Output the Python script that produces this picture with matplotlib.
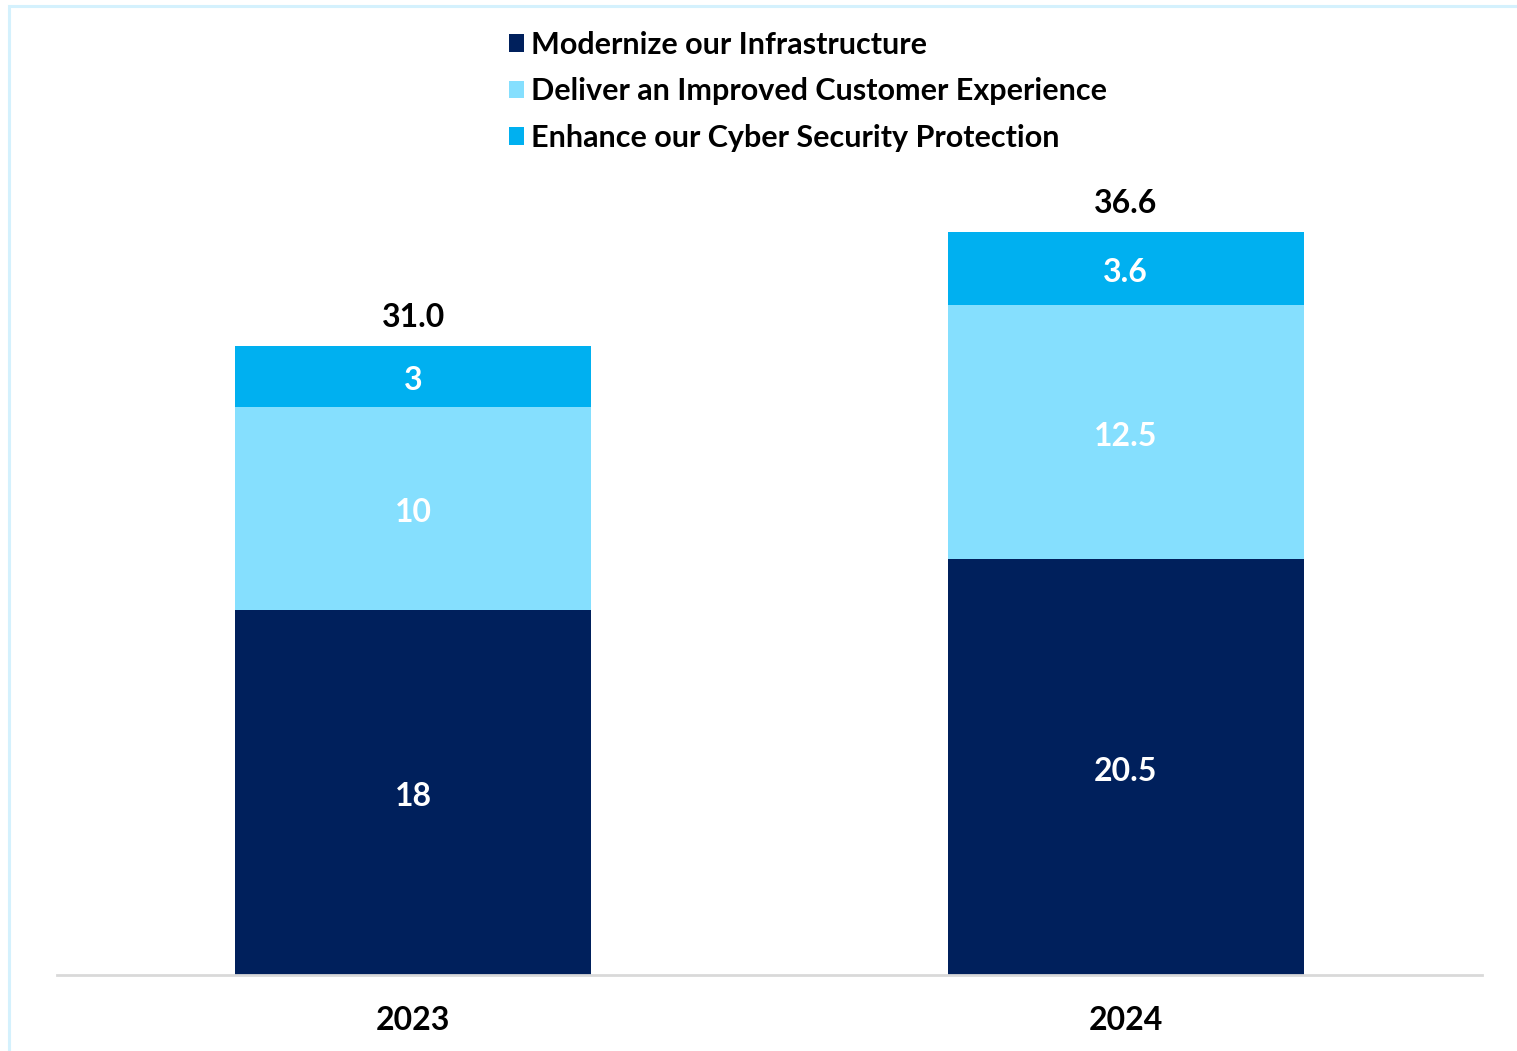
import matplotlib
matplotlib.use("Agg")
import matplotlib.pyplot as plt
from matplotlib.patches import Rectangle
import numpy as np

years = ["2023", "2024"]
series_names = ["Modernize our Infrastructure",
                "Deliver an Improved Customer Experience",
                "Enhance our Cyber Security Protection"]
modernize = [18, 20.5]
customer = [10, 12.5]
cyber = [3, 3.6]
segment_labels = [["18", "20.5"], ["10", "12.5"], ["3", "3.6"]]
totals = ["31.0", "36.6"]

colors = ["#00205C", "#85DFFE", "#00B0F0"]
label_colors = ["white", "white", "white"]

plt.rcParams['font.family'] = ['Lato', 'DejaVu Sans']

W, H = 1517, 1051
fig = plt.figure(figsize=(W / 100, H / 100), dpi=100)
fig.patch.set_facecolor("white")

# light frame
fig.patches.append(Rectangle((9 / W, -0.01), 1.02, 1 - 6 / H + 0.01,
                             transform=fig.transFigure, fill=False,
                             edgecolor="#d4f1fd", lw=2.2, zorder=0))

ax = fig.add_axes([57 / W, (H - 975) / H, (1482 - 57) / W, 975 / H])
ax.set_facecolor("none")

x = np.arange(len(years))
width = 0.5
data = [modernize, customer, cyber]
bottoms = np.zeros(len(years))
bars = []
for vals, col, name in zip(data, colors, series_names):
    b = ax.bar(x, vals, width, bottom=bottoms, color=col, label=name, zorder=2)
    bars.append(b)
    bottoms = bottoms + np.array(vals)

for si, (vals, b) in enumerate(zip(data, bars)):
    for i, rect in enumerate(b):
        cx = rect.get_x() + rect.get_width() / 2
        cy = rect.get_y() + rect.get_height() / 2
        ax.annotate(segment_labels[si][i], (cx, cy), xytext=(0, -3),
                    textcoords="offset points", ha="center", va="center",
                    color=label_colors[si], fontsize=23, fontweight="bold",
                    zorder=3)

for i in range(len(years)):
    ax.annotate(totals[i], (x[i], bottoms[i]), xytext=(0, 10),
                textcoords="offset points", ha="center", va="bottom",
                fontsize=23, fontweight="bold", color="black")

ax.set_xlim(-0.5, 1.5)
ax.set_ylim(0, 975 / 20.3)
ax.set_xticks(x)
ax.set_xticklabels(years, fontsize=23, fontweight="bold")
ax.tick_params(axis="x", length=0, pad=22)
ax.set_yticks([])
for s in ["top", "right", "left"]:
    ax.spines[s].set_visible(False)
ax.spines["bottom"].set_color("#d9d9d9")
ax.spines["bottom"].set_linewidth(2)

leg = fig.legend(handles=bars, labels=series_names, loc="upper left",
                 bbox_to_anchor=(509 / W, 1 - 31 / H), frameon=False,
                 fontsize=22, handlelength=0.5, handleheight=0.5,
                 handletextpad=0.22, labelspacing=0.6, borderpad=0,
                 borderaxespad=0)
for t in leg.get_texts():
    t.set_fontweight("bold")

fig.savefig("out.png", dpi=100)
